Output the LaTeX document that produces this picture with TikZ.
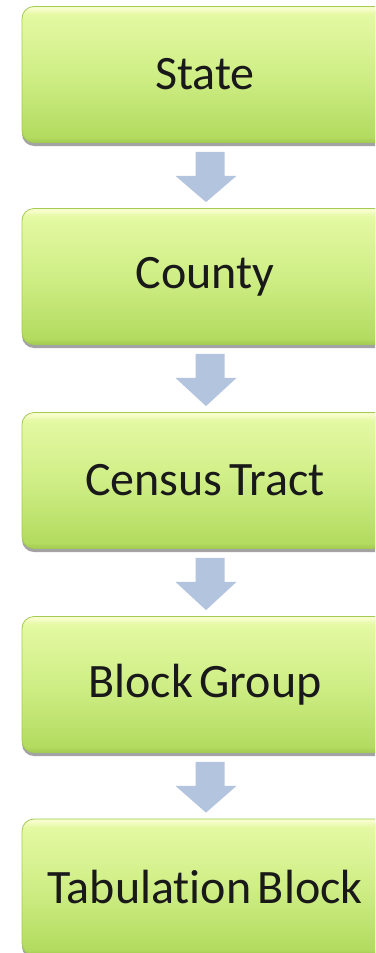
\documentclass[tikz,border=0pt]{standalone}
\usepackage{fontspec}
\setmainfont{Carlito}[Ligatures={NoCommon}, WordSpace=0.6]
\usetikzlibrary{shadows,calc}
\definecolor{gTop}{HTML}{F7FDCB}
\definecolor{gHi}{HTML}{E4F9A2}
\definecolor{gMid}{HTML}{CFEE86}
\definecolor{gLow}{HTML}{B3DB5F}
\definecolor{gBot}{HTML}{A2CB4E}
\definecolor{gEdge}{HTML}{A4CB55}
\definecolor{arrowblue}{HTML}{B3C4DE}
\pgfdeclareverticalshading{boxshade}{100bp}{%
  color(0bp)=(gBot); color(25bp)=(gBot); color(27bp)=(gLow);
  color(50bp)=(gMid); color(72bp)=(gHi); color(74.2bp)=(gTop); color(75bp)=(gTop); color(100bp)=(gTop)}
\tikzset{
  levelbox/.style={rectangle, rounded corners=12pt, minimum width=366pt, minimum height=136pt,
    shading=boxshade, draw=gEdge, line width=0.8pt,
    drop shadow={shadow xshift=0pt, shadow yshift=-3.5pt, fill=black!45, opacity=0.8},
    font=\fontsize{48}{52}\selectfont, text=black!90, inner sep=0pt},
  flowarrow/.style={fill=arrowblue, draw=none}
}
\newcommand{\downarrowbetween}[2]{%
  \fill[flowarrow] ([shift={(-9.5,9)}]#1.south) -- ([shift={(19.5,9)}]#1.south)
    -- ([shift={(19.5,33)}]#1.south) -- ([shift={(31.5,33)}]#1.south)
    -- ([shift={(1,-6)}]#2.north) -- ([shift={(-29.5,33)}]#1.south)
    -- ([shift={(-9.5,33)}]#1.south) -- cycle;}
\begin{document}
\begin{tikzpicture}[x=1pt, y=-1pt]
  \useasboundingbox (0,0) rectangle (375,953);
  \clip (0,0) rectangle (375,953);
  \fill[white] (0,0) rectangle (375,953);
  \node[levelbox] (state)  at (205,74.5)  {State};
  \node[levelbox] (county) at (205,276.5) {County};
  \node[levelbox] (tract)  at (205,480.5) {Census Tract};
  \node[levelbox] (group)  at (205,684.5) {Block Group};
  \node[levelbox] (block)  at (205,887)   {Tabulation Block};
  \downarrowbetween{state}{county}
  \downarrowbetween{county}{tract}
  \downarrowbetween{tract}{group}
  \downarrowbetween{group}{block}
\end{tikzpicture}
\end{document}
